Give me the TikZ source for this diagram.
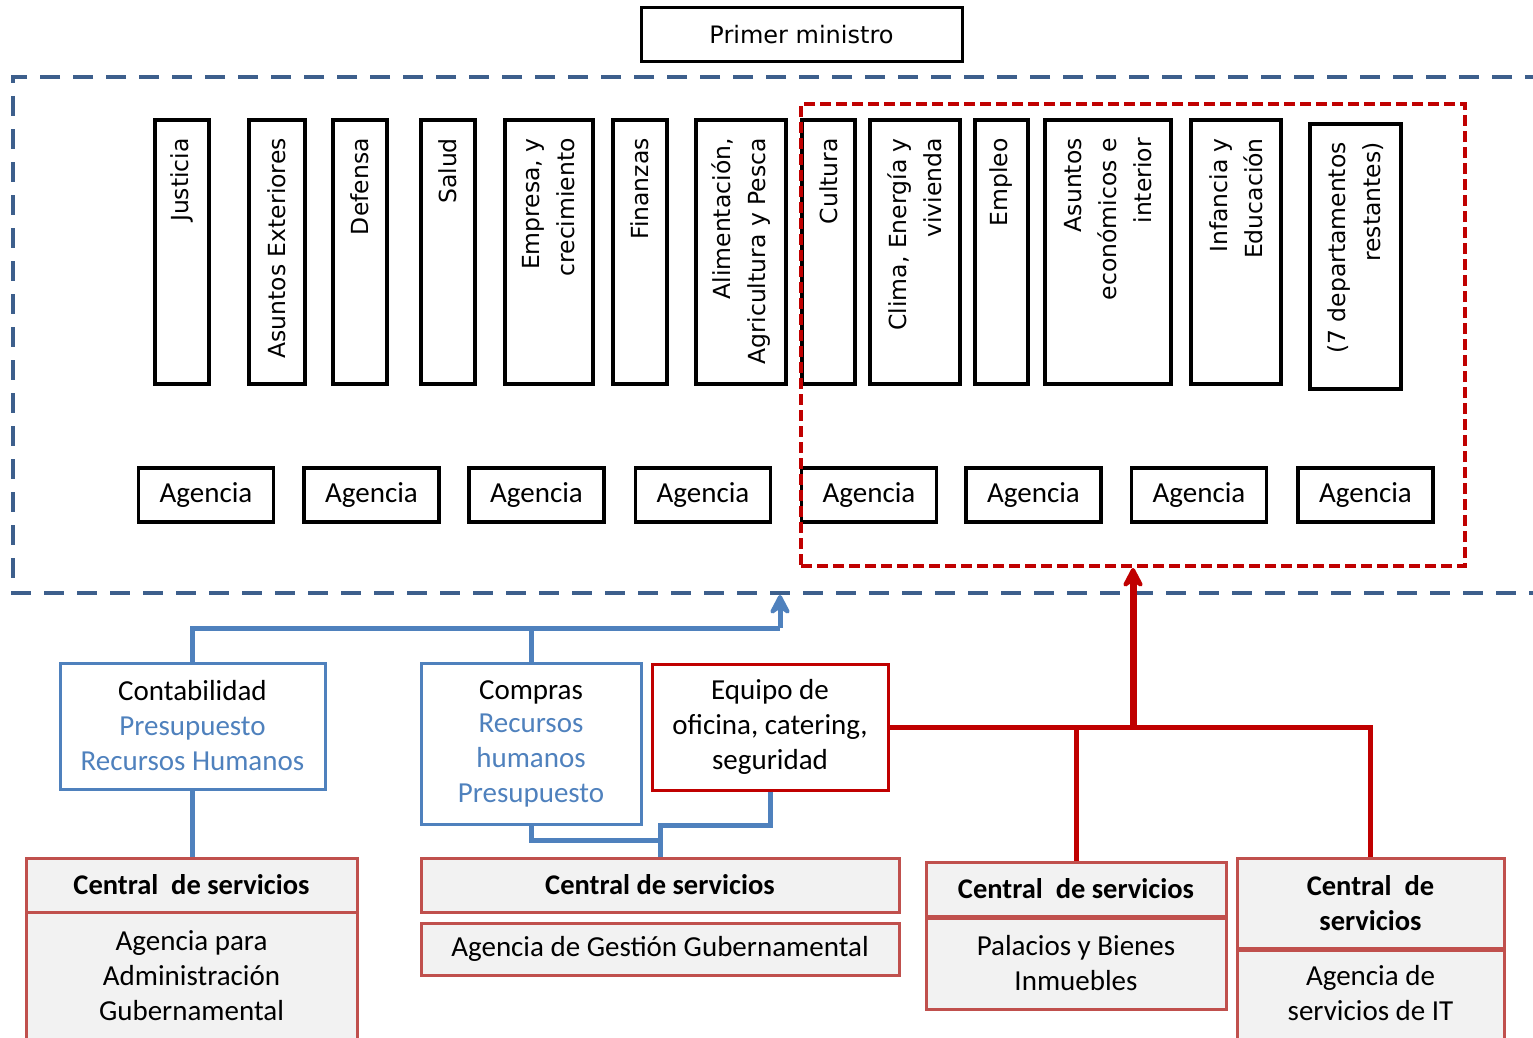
\documentclass[tikz,border=0pt]{standalone}
\usepackage{fontspec}
\setmainfont{Carlito}
\newfontfamily\vfont{DejaVu Sans}
\usetikzlibrary{arrows.meta}
\definecolor{dashblue}{RGB}{61,95,140}
\definecolor{linkblue}{RGB}{79,129,189}
\definecolor{deepred}{RGB}{192,0,0}
\definecolor{softred}{RGB}{192,80,77}
\definecolor{panel}{RGB}{242,242,242}

\begin{document}
\begin{tikzpicture}[x=1pt,y=-1pt,
  mbox/.style={draw=black, line width=3.5pt, minimum height=264pt, inner sep=0pt},
  vlabel/.style={rotate=90, anchor=east, align=right, inner sep=0pt,
    font=\vfont\fontsize{23.5}{35}\selectfont},
  agbox/.style={draw=black, line width=3.5pt, minimum width=135pt, minimum height=54pt,
    inner sep=0pt, font=\fontsize{29}{35}\selectfont},
  bluebox/.style={draw=linkblue, line width=3pt, inner sep=0pt, align=center,
    font=\fontsize{29}{35}\selectfont},
  redbox/.style={draw=deepred, line width=3pt, inner sep=0pt, align=center,
    font=\fontsize{29}{35}\selectfont},
  hdbox/.style={draw=softred, fill=panel, line width=3pt, inner sep=0pt, align=center,
    font=\bfseries\fontsize{28.5}{35}\selectfont},
  bdbox/.style={draw=softred, fill=panel, line width=3pt, inner sep=0pt, align=center,
    font=\fontsize{29}{35}\selectfont},
  btext/.style={inner sep=0pt, align=center, font=\fontsize{29}{35}\selectfont},
  bluelink/.style={draw=linkblue, line width=5pt},
  redlink/.style={draw=deepred, line width=5pt},
  uptip/.style={-{Stealth[length=25pt,width=26pt,inset=9pt,round]}}
]
\useasboundingbox (0,0) rectangle (1533,1038);

% top
\node[draw=black, line width=3pt, minimum width=321pt, minimum height=54pt, inner sep=0pt,
  font=\vfont\fontsize{24}{30}\selectfont] (pm) at (801.5,35) {Primer ministro};

% government frame (open to the right)
\draw[dashblue, line width=4pt, dash pattern=on 20pt off 13pt]
  (1545,77) -- (13,77) -- (13,593) -- (1545,593);

% ministries
\node[mbox, minimum width=54pt] (m1) at (182,252) {};
\node[mbox, minimum width=56pt] (m2) at (277,252) {};
\node[mbox, minimum width=54pt] (m3) at (360,252) {};
\node[mbox, minimum width=54pt] (m4) at (448,252) {};
\node[mbox, minimum width=88pt] (m5) at (549,252) {};
\node[mbox, minimum width=54pt] (m6) at (640,252) {};
\node[mbox, minimum width=90pt] (m7) at (741,252) {};
\node[mbox, minimum width=53pt] (m8) at (828.5,252) {};
\node[mbox, minimum width=90pt] (m9) at (915,252) {};
\node[mbox, minimum width=53pt] (m10) at (1001.5,252) {};
\node[mbox, minimum width=126pt] (m11) at (1108,252) {};
\node[mbox, minimum width=90pt] (m12) at (1236,252) {};
\node[mbox, minimum width=91pt, minimum height=265pt] (m13) at (1355.5,256.5) {};

\node[vlabel] (t1) at (182,138) {Justicia};
\node[vlabel] (t2) at (277,138) {Asuntos Exteriores};
\node[vlabel] (t3) at (360,138) {Defensa};
\node[vlabel] (t4) at (448,138) {Salud};
\node[vlabel] (t5) at (549,138) {Empresa, y\\crecimiento};
\node[vlabel] (t6) at (640,138) {Finanzas};
\node[vlabel] (t7) at (741,138) {Alimentación,\\Agricultura y Pesca};
\node[vlabel] (t8) at (828.5,138) {Cultura};
\node[vlabel] (t9) at (915,138) {Clima, Energía y\\vivienda};
\node[vlabel] (t10) at (1001.5,138) {Empleo};
\node[vlabel] (t11) at (1108,138) {Asuntos\\económicos e\\interior};
\node[vlabel] (t12) at (1236,138) {Infancia y\\Educación};
\node[vlabel] (t13) at (1355.5,142) {(7 departamentos\\restantes)};

% agencies
\node[agbox] (a1) at (206,495) {Agencia};
\node[agbox] (a2) at (371.5,495) {Agencia};
\node[agbox] (a3) at (536.5,495) {Agencia};
\node[agbox] (a4) at (703,495) {Agencia};
\node[agbox] (a5) at (869,495) {Agencia};
\node[agbox] (a6) at (1033.5,495) {Agencia};
\node[agbox] (a7) at (1199,495) {Agencia};
\node[agbox] (a8) at (1365.5,495) {Agencia};

% highlighted group
\node[draw=deepred, line width=4pt, dash pattern=on 11pt off 5pt, minimum width=664pt,
  minimum height=462pt, inner sep=0pt] (grp) at (1133,335) {};

% support functions
\node[bluebox, minimum width=265pt, minimum height=126pt] (cont) at (192.5,726)
  {Contabilidad\\\textcolor{linkblue}{Presupuesto}\\\textcolor{linkblue}{Recursos Humanos}};
\node[bluebox, minimum width=220pt, minimum height=161pt] (comp) at (531,743.5)
  {\raisebox{-2pt}{Compras}\\\textcolor{linkblue}{Recursos}\\\textcolor{linkblue}{humanos}\\\textcolor{linkblue}{Presupuesto}};
\node[redbox, minimum width=236pt, minimum height=126pt] (equ) at (770,727)
  {Equipo de\\oficina, catering,\\seguridad};

% service centres
\node[hdbox, minimum width=331pt, minimum height=54pt] (cs1) at (191.5,885) {Central~~de servicios};
\node[bdbox, minimum width=331pt, minimum height=138pt] (cs1b) at (191.5,981) {};
\node[btext] (cs1t) at (191.5,976) {Agencia para\\Administración\\Gubernamental};

\node[hdbox, minimum width=478pt, minimum height=54pt] (cs2) at (660,885) {Central de servicios};
\node[bdbox, minimum width=478pt, minimum height=52pt] (cs2b) at (660,949) {Agencia de Gestión Gubernamental};

\node[hdbox, minimum width=300pt, minimum height=54pt] (cs3) at (1076,889) {Central~~de servicios};
\node[bdbox, minimum width=300pt, minimum height=91pt] (cs3b) at (1076,963.5) {Palacios y Bienes\\Inmuebles};

\node[hdbox, minimum width=267pt, minimum height=90pt] (cs4) at (1370.5,903) {Central~~de\\servicios};
\node[bdbox, minimum width=267pt, minimum height=100pt] (cs4b) at (1370.5,1000) {};
\node[btext] (cs4t) at (1370.5,993.5) {Agencia de\\servicios de IT};

% blue connectors
\coordinate (bj) at (780,628);
\coordinate (btip) at (780,595);
\coordinate (bc) at (660,840);
\coordinate (be) at (660,825);
\draw[bluelink] (cont.north) |- (bj);
\draw[bluelink] (comp.north) -- (comp.north |- bj);
\draw[bluelink, uptip] (bj) -- (btip);
\draw[bluelink] (cont.south) -- (cont.south |- cs1.north);
\draw[bluelink] (comp.south) |- (bc);
\draw[bluelink] (equ.south) |- (be) -- (cs2.north);

% red connectors
\coordinate (rj) at (1133,727);
\coordinate (rb) at (1076,727);
\draw[redlink] (equ.east) -| (cs4.north);
\draw[redlink] (rb) -- (cs3.north);
\draw[redlink, line width=7pt, uptip] (rj) -- (grp.south);
\end{tikzpicture}
\end{document}
